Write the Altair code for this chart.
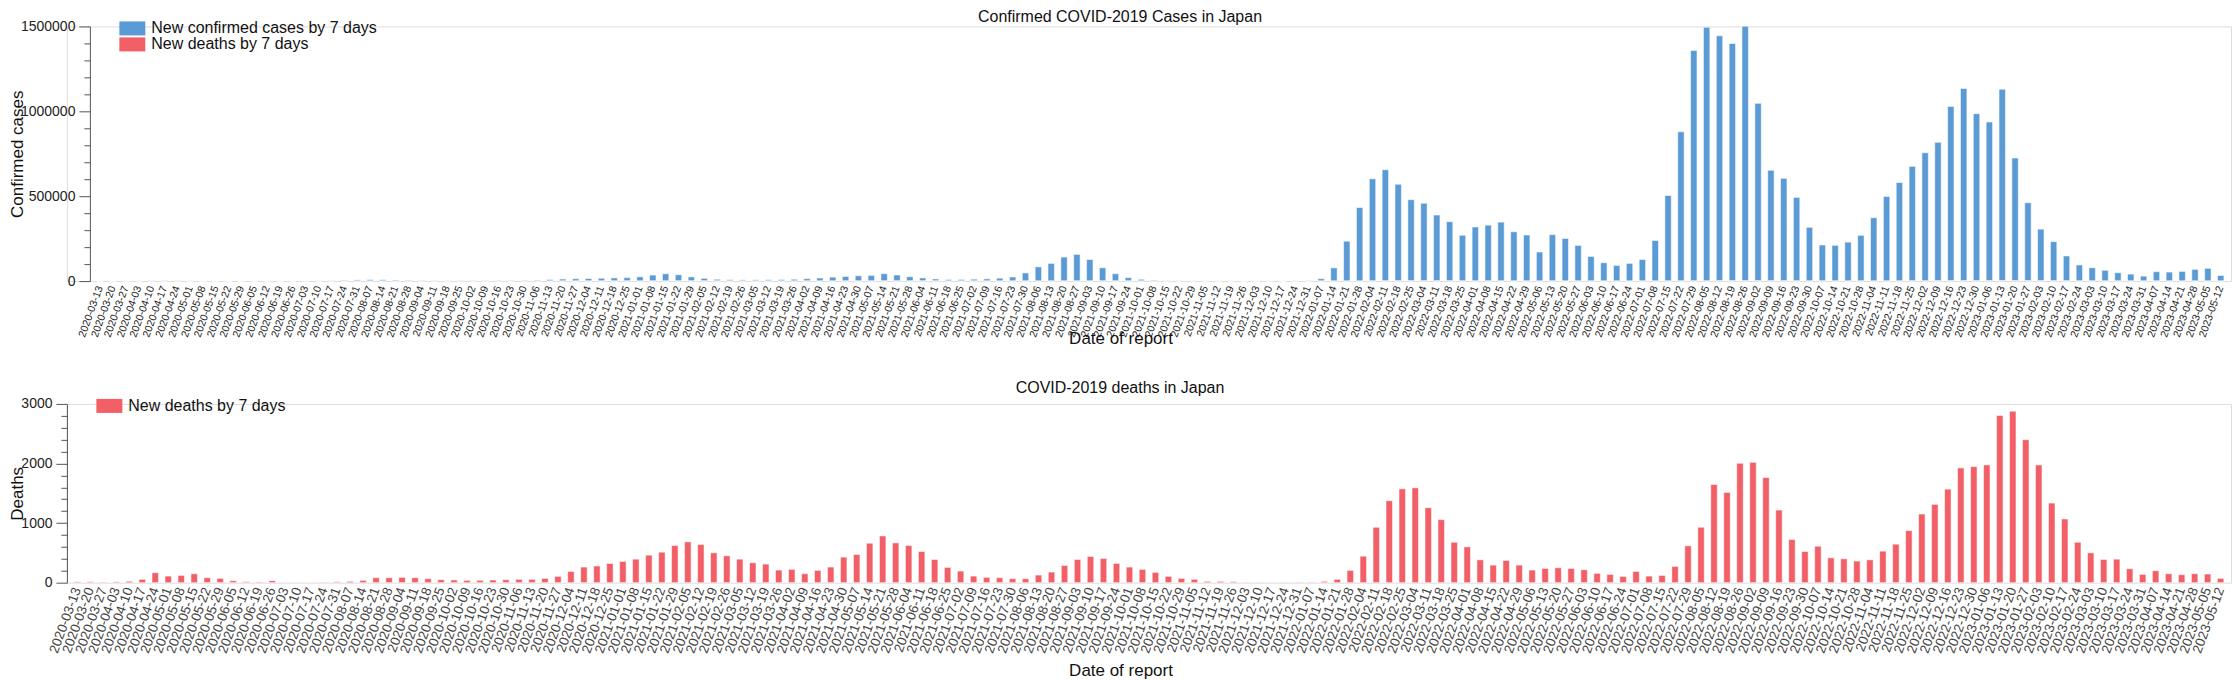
import altair as alt
import pandas as pd

# ---- data -------------------------------------------------------------
dates = [d.strftime("%Y-%m-%d") for d in pd.date_range("2020-03-13", periods=166, freq="7D")]

cases = [
    300, 400, 700, 1500, 3000, 3500, 2700, 1600, 700, 350,
    200, 250, 250, 300, 350, 600, 1000, 1700, 3300, 4800,
    7000, 8500, 7900, 6300, 4800, 3900, 3500, 3400, 3500, 3600,
    3700, 3700, 3900, 4500, 5600, 9000, 12000, 14000, 15000, 16500,
    18500, 20000, 25000, 35000, 43000, 37000, 24000, 15500, 10000, 7800,
    6800, 7000, 7700, 8700, 10500, 14000, 18000, 23000, 27000, 31000,
    33000, 43000, 35000, 25000, 18000, 12000, 9000, 9500, 11000, 13000,
    17000, 24000, 48000, 84000, 104000, 141000, 157000, 127000, 78000, 43000,
    20000, 10000, 5500, 3500, 2300, 1900, 1500, 1300, 1000, 800,
    800, 900, 1100, 1600, 3000, 14000, 78000, 235000, 433000, 602000,
    655000, 569000, 478000, 457000, 388000, 349000, 269000, 318000, 329000, 347000,
    290000, 271000, 171000, 273000, 251000, 210000, 145000, 108000, 92000, 104000,
    127000, 239000, 504000, 879000, 1357000, 1494000, 1443000, 1398000, 1499000, 1045000,
    651000, 604000, 492000, 316000, 212000, 210000, 229000, 269000, 373000, 498000,
    580000, 675000, 755000, 816000, 1027000, 1133000, 984000, 935000, 1127000, 722000,
    459000, 304000, 231000, 147000, 94000, 78000, 63000, 49000, 41000, 29000,
    55000, 53000, 57000, 69000, 75000, 33000,
]

deaths = [
    15, 15, 10, 15, 25, 56, 167, 111, 122, 150,
    83, 72, 33, 17, 12, 33, 6, 5, 5, 6,
    15, 22, 39, 83, 83, 89, 83, 67, 50, 45,
    39, 39, 45, 50, 56, 56, 72, 106, 189, 262,
    280, 323, 356, 395, 462, 512, 623, 685, 640, 501,
    451, 395, 334, 312, 212, 223, 150, 206, 262, 429,
    473, 662, 785, 668, 623, 523, 390, 256, 195, 111,
    89, 83, 67, 67, 128, 178, 289, 390, 440, 406,
    323, 262, 223, 173, 106, 72, 56, 22, 22, 17,
    8, 6, 6, 7, 8, 9, 22, 56, 206, 445,
    930, 1375, 1575, 1592, 1258, 1058, 679, 601, 384, 295,
    373, 295, 212, 239, 250, 239, 217, 156, 139, 106,
    189, 111, 122, 273, 618, 930, 1648, 1514, 2004, 2020,
    1764, 1219, 724, 523, 612, 417, 401, 362, 384, 529,
    646, 874, 1152, 1314, 1570, 1926, 1948, 1976, 2805, 2878,
    2399, 1976, 1336, 1069, 679, 501, 390, 395, 234, 139,
    200, 150, 134, 150, 145, 72,
]

CASES = "New confirmed cases by 7 days"
DEATHS = "New deaths by 7 days"
BLUE = "#5B9BD5"
RED = "#F25F67"
FONT = "Liberation Sans"

top_df = pd.DataFrame({
    "date": dates + dates,
    "value": cases + deaths,
    "series": [CASES] * len(dates) + [DEATHS] * len(dates),
    "stackorder": [1] * len(dates) + [0] * len(dates),
})
bot_df = pd.DataFrame({"date": dates, "value": deaths, "series": [DEATHS] * len(dates)})

RECT = "M-2,-1.08H2V1.08H-2Z"

LEFT = 65          # common plot origin (bottom axis position)
SHIFT = 23         # top chart's axis sits this much further right
PLOT_W = 2232 - LEFT


def legend(x, y):
    return alt.Legend(
        title=None, orient="none", legendX=x, legendY=y, padding=0,
        symbolType=RECT, symbolSize=169, symbolStrokeWidth=0, symbolOpacity=1,
        labelFont=FONT, labelFontSize=16, labelColor="#111", labelOffset=11,
        rowPadding=-5, labelLimit=400,
    )


def x_axis(title_x, title_y, font_size, color):
    return alt.Axis(
        title="Date of report", titleFont=FONT, titleFontSize=17, titleFontWeight="normal",
        titleColor="#111", titleX=title_x, titleY=title_y, titleAlign="center",
        titleBaseline="middle", labelAngle=290, labelFont=FONT, labelFontSize=font_size,
        labelColor=color, labelPadding=5, ticks=False, domain=False, labelOverlap=False,
        labelAlign="right", labelBaseline="middle",
    )


def y_axis(title, values, major, title_x, offset):
    return alt.Axis(
        title=title, titleFont=FONT, titleFontSize=17, titleFontWeight="normal",
        titleColor="#111", titleX=title_x, titleBaseline="top",
        values=values, offset=offset,
        labelExpr=f"datum.value % {major} === 0 ? format(datum.value, 'd') : ''",
        labelFont=FONT, labelFontSize=14, labelColor="#222", labelPadding=4,
        tickSize={"condition": {"test": f"datum.value % {major} === 0", "value": 11}, "value": 6},
        tickColor="#555", domainColor="#555", grid=False,
    )


bar_style = dict(stroke="#ffffff", strokeWidth=1, strokeOpacity=0.55)

top = (
    alt.Chart(top_df)
    .mark_bar(**bar_style)
    .encode(
        x=alt.X("date:N",
                scale=alt.Scale(paddingInner=0.5, paddingOuter=0.55, range=[SHIFT, PLOT_W]),
                axis=x_axis(1120 - LEFT, 58, 10.5, "#222")),
        y=alt.Y("value:Q", stack="zero", scale=alt.Scale(domain=[0, 1500000]),
                axis=y_axis("Confirmed cases", list(range(0, 1500001, 100000)), 500000, -80, -SHIFT)),
        color=alt.Color("series:N", scale=alt.Scale(domain=[CASES, DEATHS], range=[BLUE, RED]),
                        legend=legend(34.5 + SHIFT, -6)),
        order=alt.Order("stackorder:Q"),
    )
    .properties(
        width=PLOT_W, height=255,
        title=alt.TitleParams("Confirmed COVID-2019 Cases in Japan", anchor="middle", frame="bounds",
                              font=FONT, fontSize=16, fontWeight="normal", color="#111", offset=-6),
    )
)

bottom = (
    alt.Chart(bot_df)
    .mark_bar(**bar_style)
    .encode(
        x=alt.X("date:N", scale=alt.Scale(paddingInner=0.5, paddingOuter=0.55),
                axis=x_axis(1120 - LEFT, 88, 13.5, "#444")),
        y=alt.Y("value:Q", scale=alt.Scale(domain=[0, 3000]),
                axis=y_axis("Deaths", list(range(0, 3001, 200)), 1000, -57, 0)),
        color=alt.Color("series:N", scale=alt.Scale(domain=[DEATHS], range=[RED]),
                        legend=legend(34.5, -6)),
    )
    .properties(
        width=PLOT_W, height=179,
        title=alt.TitleParams("COVID-2019 deaths in Japan", anchor="middle", frame="bounds",
                              font=FONT, fontSize=16, fontWeight="normal", color="#111", offset=1),
    )
)

chart = (
    alt.concat(top, bottom, columns=1, spacing=31)
    .resolve_scale(color="independent", x="independent", y="independent")
    .resolve_legend(color="independent")
    .properties(padding={"left": 0, "top": 0, "right": 0, "bottom": 0})
    .configure_view(strokeWidth=0)
    .configure(background="white")
)

chart.save("out.html", embed_options={"renderer": "svg", "actions": False})
